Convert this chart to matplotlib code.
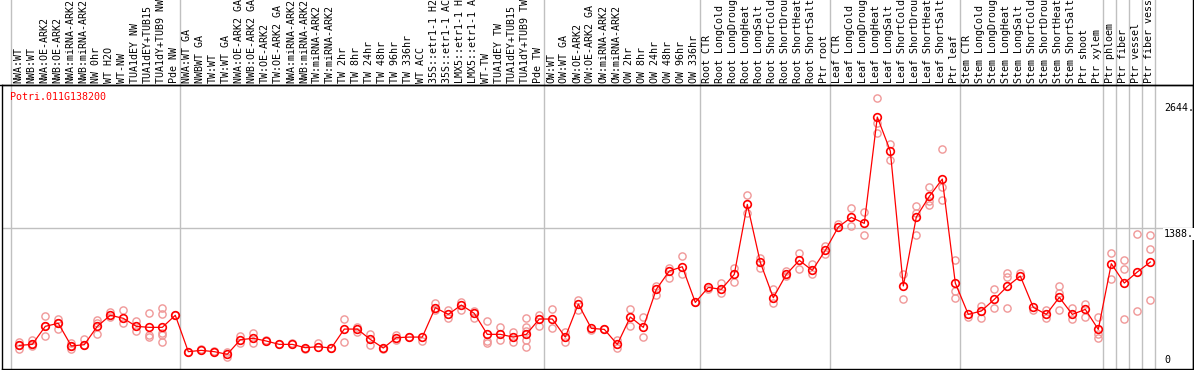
import matplotlib
matplotlib.use("Agg")
import matplotlib.pyplot as plt
import matplotlib.lines as mlines

gene = "Potri.011G138200"

samples = [
    "NWA:WT", "NWB:WT", "NWA:OE-ARK2", "NWB:OE-ARK2", "NWA:miRNA-ARK2",
    "NWB:miRNA-ARK2", "NW 0hr", "WT H2O", "WT-NW", "TUA1dEY NW",
    "TUA1dEY+TUB15", "TUA1dY+TUB9 NW", "Pde NW",
    "NWA:WT GA", "NWBWT GA", "TW:WT", "TW:WT GA", "NWA:OE-ARK2 GA",
    "NWB:OE-ARK2 GA", "TW:OE-ARK2", "TW:OE-ARK2 GA", "NWA:miRNA-ARK2",
    "NWB:miRNA-ARK2", "TW:miRNA-ARK2", "TW:miRNA-ARK2", "TW 2hr", "TW 8hr",
    "TW 24hr", "TW 48hr", "TW 96hr", "TW 336hr", "WT ACC", "35S::etr1-1 H2",
    "35S::etr1-1 AC", "LMX5::etr1-1 H", "LMX5::etr1-1 A", "WT-TW",
    "TUA1dEY TW", "TUA1dEY+TUB15", "TUA1dY+TUB9 TW", "Pde TW",
    "OW:WT", "OW:WT GA", "OW:OE-ARK2", "OW:OE-ARK2 GA", "OW:miRNA-ARK2",
    "OW:miRNA-ARK2", "OW 2hr", "OW 8hr", "OW 24hr", "OW 48hr", "OW 96hr",
    "OW 336hr",
    "Root CTR", "Root LongCold", "Root LongDroug", "Root LongHeat",
    "Root LongSalt", "Root ShortCold", "Root ShortDrou", "Root ShortHeat",
    "Root ShortSalt", "Ptr root",
    "Leaf CTR", "Leaf LongCold", "Leaf LongDroug", "Leaf LongHeat",
    "Leaf LongSalt", "Leaf ShortCold", "Leaf ShortDrou", "Leaf ShortHeat",
    "Leaf ShortSalt", "Ptr leaf",
    "Stem CTR", "Stem LongCold", "Stem LongDroug", "Stem LongHeat",
    "Stem LongSalt", "Stem ShortCold", "Stem ShortDrou", "Stem ShortHeat",
    "Stem ShortSalt", "Ptr shoot", "Ptr xylem",
    "Ptr phloem", "Ptr fiber", "Ptr vessel", "Ptr fiber vess",
]

means = [
    230, 240, 418, 448, 224, 237, 418, 527, 497, 418, 408, 408, 527,
    168, 181, 168, 142, 286, 300, 273, 240, 240, 207, 217, 204, 391, 391,
    289, 204, 306, 312, 312, 602, 536, 628, 546, 339, 339, 312, 339, 490,
    490, 312, 638, 398, 388, 240, 510, 408, 783, 964, 1006, 654,
    802, 783, 931, 1621, 1049, 700, 931, 1069, 970, 1167,
    1398, 1493, 1434, 2483, 2148, 816, 1496, 1700, 1871, 845,
    536, 569, 684, 812, 914, 605, 536, 704, 536, 585, 388,
    1036, 845, 954, 1052,
]

reps = [
    [267, 191, 230], [279, 240, 220], [517, 319, 418], [493, 395, 455],
    [257, 191, 224], [289, 232], [480, 454, 339], [556, 513], [579, 448],
    [474, 375], [546, 332, 316], [595, 536, 349, 260, 330], [527],
    [168], [190], [175], [119, 160], [322, 250], [349, 250], [283],
    [240], [255], [190], [257], [204], [487, 260], [410, 365],
    [342, 230], [190], [329, 283], [312], [273], [651, 580], [579, 500],
    [661, 579], [500, 570], [467, 273, 250], [414, 283], [365, 266],
    [500, 414, 375, 283, 214], [533, 424],
    [585, 398], [365, 266], [677, 579], [380], [388], [283, 207],
    [589, 424], [513, 316], [819, 727], [997, 898], [1112, 931], [654],
    [783], [845, 743], [990, 852], [1710, 1532], [1095, 990], [789, 645],
    [967, 910], [1138, 980], [1029, 931], [1213, 1131],
    [1427], [1582, 1411], [1549, 1319], [2667, 2427, 2328], [2217, 2059],
    [934, 684], [1608, 1532, 1322], [1796, 1615, 1650], [2164, 1789, 1664],
    [1072, 766, 694],
    [510], [618, 497], [783, 602], [941, 901, 595], [947], [580],
    [579, 503], [816, 743, 579], [595, 487], [635, 513], [513, 342, 306],
    [1138, 881], [1069, 980, 490], [1325, 569], [1315, 1177, 674],
]

group_starts = [0, 13, 41, 53, 63, 73, 84, 85, 86, 87, 88]
ytick_vals = [2644, 1388, 0]

W, H = 1194, 370
fig = plt.figure(figsize=(W / 100, H / 100), dpi=100)
ax_l, ax_r, ax_t, ax_b = 2, 1193, 85, 368.7
ax = fig.add_axes([ax_l / W, (H - ax_b) / H, (ax_r - ax_l) / W, (ax_b - ax_t) / H])

x0, dx = 19.3, 13.0  # pixel of first column, column spacing
ax.set_xlim((ax_l - x0) / dx, (ax_r - x0) / dx)
ax.set_ylim(0, 2799)
ax.set_xticks([])
ax.set_yticks([])
for s in ax.spines.values():
    s.set_linewidth(1.0)
    s.set_color("black")

grey = "#c0c0c0"
# horizontal guide
ax.axhline(ytick_vals[1], color=grey, lw=1.0, zorder=1)
# vertical group separators, running up through the label strip
for g in group_starts:
    ax.vlines(g - 0.66, 0, 1.4, transform=ax.get_xaxis_transform(),
              color=grey, lw=1.0, clip_on=False, zorder=1)
# right frame line also runs to the top
ax.vlines(1, 0, 1.4, transform=ax.transAxes, color="black", lw=1.0, clip_on=False)
fig.add_artist(mlines.Line2D([0, 1], [(H - ax_t) / H] * 2, color="black", lw=1.0))

mono = "DejaVu Sans Mono"
fs = 7.2

# sample labels
for i, lab in enumerate(samples):
    ax.text(i - 0.1, 1 + 2 / (ax_b - ax_t), lab, rotation=90, ha="center", va="bottom",
            fontsize=fs, family=mono, transform=ax.get_xaxis_transform(), clip_on=False)

# replicate points
for i, r in enumerate(reps):
    ax.plot([i] * len(r), r, "o", ms=5.2, mfc="none", mec="#f09898", mew=1.0,
            linestyle="none", zorder=2)

# mean line
xs = list(range(len(means)))
ax.plot(xs, means, "-", color="red", lw=0.9, zorder=3)
ax.plot(xs, means, "o", ms=5.5, mfc="none", mec="red", mew=1.2, zorder=4)

# y labels in the right strip
xt = (1164 - x0) / dx
ax.text(xt, ytick_vals[0] - 20, "2644.", ha="left", va="top", fontsize=fs, family=mono)
ax.text(xt, ytick_vals[1] - 10, "1388.", ha="left", va="top", fontsize=fs, family=mono,
        bbox=dict(facecolor="white", edgecolor="none", pad=0.5))
ax.text(xt, 35, "0", ha="left", va="bottom", fontsize=fs, family=mono)

# gene id
ax.text((10 - x0) / dx, 2683, gene, ha="left", va="center", color="red",
        fontsize=fs, family=mono)

fig.savefig("out.png", dpi=100)
